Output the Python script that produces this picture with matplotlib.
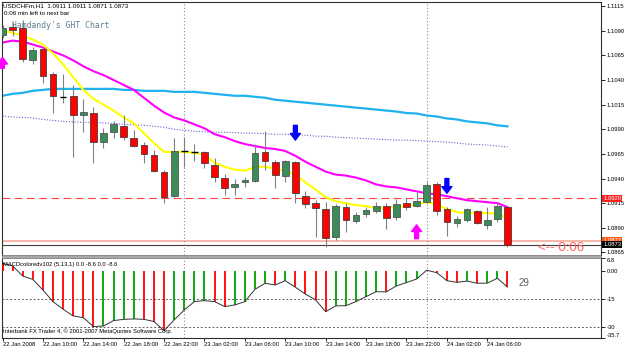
import numpy as np
import matplotlib.pyplot as plt
import matplotlib.transforms as mtransforms
from matplotlib.patches import Rectangle

plt.rcParams['font.family'] = ['Liberation Sans', 'DejaVu Sans']

# USDCHFm H1, 22 Jan 06:00 .. 24 Jan 08:00
opens = [1.1086, 1.1094, 1.1093, 1.1060, 1.1071, 1.1046, 1.1023, 1.1024, 1.1004, 1.1007,
         1.0977, 1.0987, 1.0993, 1.0981, 1.0974, 1.0964, 1.0947, 1.0922, 1.0969, 1.0967,
         1.0967, 1.0954, 1.0941, 1.0931, 1.0936, 1.0938, 1.0967, 1.0957, 1.0943, 1.0957,
         1.0922, 1.0915, 1.0909, 1.0881, 1.0911, 1.0897, 1.0904, 1.0907, 1.0912, 1.0901,
         1.0915, 1.0912, 1.0916, 1.0934, 1.0909, 1.0895, 1.0898, 1.0907, 1.0893, 1.0899,
         1.0911]
highs = [1.1096, 1.1099, 1.1101, 1.1074, 1.1074, 1.1048, 1.1046, 1.1035, 1.1021, 1.1013,
         1.0991, 1.0998, 1.1005, 1.0989, 1.0977, 1.0969, 1.0949, 1.0981, 1.0982, 1.0975,
         1.0968, 1.0961, 1.0945, 1.0940, 1.0942, 1.0975, 1.0988, 1.0959, 1.0959, 1.0958,
         1.0927, 1.0918, 1.0916, 1.0914, 1.0915, 1.0906, 1.0911, 1.0916, 1.0915, 1.0919,
         1.0920, 1.0926, 1.0936, 1.0936, 1.0911, 1.0902, 1.0910, 1.0908, 1.0911, 1.0915,
         1.0911]
lows = [1.1083, 1.1085, 1.1058, 1.1056, 1.1037, 1.1007, 1.1017, 1.0962, 1.0987, 1.0956,
        1.0971, 1.0981, 1.0979, 1.0972, 1.0956, 1.0947, 1.0915, 1.0921, 1.0952, 1.0958,
        1.0951, 1.0936, 1.0923, 1.0923, 1.0931, 1.0936, 1.0949, 1.0930, 1.0936, 1.0915,
        1.0910, 1.0881, 1.0871, 1.0878, 1.0886, 1.0895, 1.0901, 1.0905, 1.0889, 1.0898,
        1.0908, 1.0911, 1.0915, 1.0903, 1.0882, 1.0891, 1.0896, 1.0894, 1.0889, 1.0896,
        1.0871]
closes = [1.1093, 1.1091, 1.1061, 1.1070, 1.1044, 1.1024, 1.1023, 1.1005, 1.1008, 1.0977,
          1.0986, 1.0995, 1.0982, 1.0973, 1.0965, 1.0948, 1.0921, 1.0968, 1.0968, 1.0967,
          1.0956, 1.0942, 1.0930, 1.0934, 1.0939, 1.0966, 1.0958, 1.0944, 1.0958, 1.0925,
          1.0914, 1.0910, 1.0880, 1.0912, 1.0898, 1.0903, 1.0908, 1.0912, 1.0900, 1.0914,
          1.0911, 1.0917, 1.0933, 1.0907, 1.0896, 1.0899, 1.0909, 1.0895, 1.0898, 1.0912,
          1.0873]

ma_yellow = [1.1090, 1.1088, 1.1085, 1.1081, 1.1076, 1.1067, 1.1056, 1.1043, 1.1030, 1.1021,
             1.1015, 1.1009, 1.1002, 1.0996, 1.0986, 1.0976, 1.0967, 1.0967, 1.0967, 1.0966,
             1.0964, 1.0956, 1.0952, 1.0949, 1.0948, 1.0952, 1.0952, 1.0950, 1.0948, 1.0944,
             1.0936, 1.0929, 1.0921, 1.0917, 1.0915, 1.0913, 1.0912, 1.0910, 1.0910, 1.0911,
             1.0912, 1.0914, 1.0916, 1.0914, 1.0909, 1.0906, 1.0905, 1.0905, 1.0905, 1.0904,
             1.0900]
ma_magenta = [1.1078, 1.1080, 1.1079, 1.1076, 1.1073, 1.1069, 1.1065, 1.1060, 1.1054, 1.1049,
              1.1045, 1.1040, 1.1035, 1.1030, 1.1022, 1.1014, 1.1007, 1.1002, 1.0999, 1.0995,
              1.0991, 1.0985, 1.0982, 1.0978, 1.0975, 1.0973, 1.0971, 1.0970, 1.0968, 1.0963,
              1.0957, 1.0952, 1.0947, 1.0944, 1.0943, 1.0941, 1.0938, 1.0934, 1.0932, 1.0931,
              1.0929, 1.0927, 1.0925, 1.0924, 1.0922, 1.0920, 1.0918, 1.0917, 1.0916, 1.0915,
              1.0911]
ma_cyan = [1.1024, 1.1026, 1.1027, 1.1029, 1.1030, 1.1031, 1.1031, 1.1031, 1.1031, 1.1031,
           1.1031, 1.1031, 1.1030, 1.1030, 1.1029, 1.1029, 1.1029, 1.1028, 1.1028, 1.1028,
           1.1027, 1.1026, 1.1025, 1.1024, 1.1024, 1.1023, 1.1022, 1.1020, 1.1019, 1.1018,
           1.1017, 1.1016, 1.1015, 1.1014, 1.1013, 1.1012, 1.1011, 1.1010, 1.1009, 1.1008,
           1.10065, 1.1006, 1.1004, 1.1003, 1.1001, 1.1000, 1.0998, 1.0997, 1.0996, 1.0994,
           1.0993]
ma_dotted = [1.10035, 1.10025, 1.1002, 1.10015, 1.1000, 1.0999, 1.0998, 1.09975, 1.0997, 1.0997,
             1.09965, 1.0996, 1.0995, 1.09945, 1.0994, 1.0993, 1.0992, 1.0990, 1.0989, 1.0988,
             1.09875, 1.0987, 1.0987, 1.09865, 1.0986, 1.0986, 1.09855, 1.0985, 1.0985, 1.09845,
             1.0984, 1.0983, 1.0983, 1.0982, 1.09815, 1.0981, 1.09805, 1.0980, 1.09795, 1.0979,
             1.0979, 1.09785, 1.0978, 1.09775, 1.0977, 1.0976, 1.0975, 1.09745, 1.0974, 1.0973,
             1.0972]

macd = [4.1, 2.7, -2.7, -4.5, -10.2, -16.4, -20.5, -24.1, -25.0, -29.8,
        -29.5, -26.6, -25.9, -25.7, -25.9, -27.1, -32.0, -26.2, -20.9, -16.4,
        -15.9, -16.4, -19.1, -18.2, -16.4, -9.8, -6.6, -7.5, -5.2, -8.7,
        -12.4, -15.5, -21.8, -18.7, -18.6, -16.4, -13.7, -11.1, -11.2, -8.0,
        -6.2, -4.3, 0.4, -0.9, -5.2, -6.1, -5.4, -6.6, -6.5, -3.9,
        -8.6]
macd_dir = ['r'] * 10 + ['g'] * 4 + ['r'] * 3 + ['g'] * 4 + ['r'] * 2 + ['g'] * 4 + \
           ['r', 'g'] + ['r'] * 4 + ['g'] * 5 + ['r'] + ['g'] * 4 + ['r'] * 3 + \
           ['g', 'r', 'g', 'g', 'r']

time_ticks = [0, 4, 8, 12, 16, 20, 24, 28, 32, 36, 40, 44, 48]
time_labels = ['22 Jan 2008', '22 Jan 10:00', '22 Jan 14:00', '22 Jan 18:00', '22 Jan 22:00',
               '23 Jan 02:00', '23 Jan 06:00', '23 Jan 10:00', '23 Jan 14:00', '23 Jan 18:00',
               '23 Jan 22:00', '24 Jan 02:00', '24 Jan 06:00']
price_ticks = [1.1115, 1.1090, 1.1065, 1.1040, 1.1015, 1.0990, 1.0965, 1.0940, 1.0915, 1.0890, 1.0865]
macd_ticks = [6.8, 0.0, -15, -30, -35.7]
macd_tick_labels = ['6.8', '0.00', '-15', '-30', '-35.7']
day_separators = [18, 42]

up_arrow_bars = [0, 41]
up_arrow_tail = [1.1052, 1.0879]
up_arrow_tip = [1.1063, 1.0893]
down_arrow_bars = [29, 44]
down_arrow_tail = [1.0994, 1.0940]
down_arrow_tip = [1.0979, 1.0925]

level_price = 1.0920
ask_price = 1.0877
bid_price = 1.0873

small = 4.2

fig = plt.figure(figsize=(6.25, 3.48), dpi=100)
ax = fig.add_axes([2/625, 1-255/348, 599/625, 253/348])
ax2 = fig.add_axes([2/625, 1-337.6/348, 599/625, 79.3/348])

x = np.arange(len(opens))
o = np.array(opens)
c = np.array(closes)
body_bot = np.minimum(o, c)
body_h = np.abs(c - o)
flat = body_h < 0.00015
up = (c > o) & ~flat
down = (c < o) & ~flat

# indicator lines under the candles
ax.plot(x, ma_cyan, color='#1eb2f0', lw=1.6, zorder=2)
ax.plot(x, ma_dotted, color='#6a5acd', lw=0.8, ls=(0, (1, 1.5)), zorder=2)
ax.plot(x, ma_magenta, color='#ff00ff', lw=1.5, zorder=2)
ax.plot(x, ma_yellow, color='#ffff00', lw=1.5, zorder=2)

ax.axhline(level_price, color='#ff4040', lw=0.8, dashes=(7, 4), zorder=1)
ax.axhline(ask_price, color='#f6aa9c', lw=1.2, zorder=1)
ax.axhline(bid_price, color='#404040', lw=0.8, zorder=1)
for d in day_separators:
    ax.axvline(d, color='#8a8a8a', lw=0.8, ls=(0, (1, 2)), zorder=1)
    ax2.axvline(d, color='#8a8a8a', lw=0.8, ls=(0, (1, 2)), zorder=1)

ax.vlines(x, lows, highs, color='#808080', lw=0.8, zorder=3)
ax.bar(x[up], body_h[up], bottom=body_bot[up], width=0.66, color='#3c8c5a',
       edgecolor='#555555', lw=0.6, zorder=4)
ax.bar(x[down], body_h[down], bottom=body_bot[down], width=0.66, color='#ff0000',
       edgecolor='#404040', lw=0.6, zorder=4)
ax.hlines(c[flat], x[flat] - 0.33, x[flat] + 0.33, color='black', lw=1.0, zorder=4)

arrow_style = 'simple,head_length=0.6,head_width=0.9,tail_width=0.35'
for b, t0, t1 in zip(up_arrow_bars, up_arrow_tail, up_arrow_tip):
    ax.annotate('', xy=(b, t1), xytext=(b, t0), zorder=5,
                arrowprops=dict(arrowstyle=arrow_style, color='#ff00ff', mutation_scale=8,
                                shrinkA=0, shrinkB=0))
for b, t0, t1 in zip(down_arrow_bars, down_arrow_tail, down_arrow_tip):
    ax.annotate('', xy=(b, t1), xytext=(b, t0), zorder=5,
                arrowprops=dict(arrowstyle=arrow_style, color='#0000ff', mutation_scale=8,
                                shrinkA=0, shrinkB=0))

ax.set_xlim(-0.05, 59.26)
ax.set_ylim(1.08624, 1.11192)
ax.set_xticks([])
ax.yaxis.tick_right()
ax.set_yticks(price_ticks)
ax.set_yticklabels([f'{p:.4f}' for p in price_ticks])
ax.tick_params(axis='y', length=3, width=0.6, pad=1.0, labelsize=small)
for s in ax.spines.values():
    s.set_color('#303030')
    s.set_linewidth(0.8)
ax.spines['bottom'].set_visible(False)

# price labels on the right axis
trans = mtransforms.blended_transform_factory(ax.transAxes, ax.transData)
for p, fc, tc in [(level_price, '#ff2020', 'white'), (ask_price, '#ff5a10', 'white'),
                  (bid_price, 'black', 'white')]:
    ax.text(1.004, p, f'{p:.4f}', transform=trans, ha='left', va='center', fontsize=small,
            color=tc, zorder=6, clip_on=False,
            bbox=dict(facecolor=fc, edgecolor='none', pad=0.7))

ax.text(53.0, 1.0870, '<-- 0:06', color='#ff6060', fontsize=9.5,
        va='center', ha='left', zorder=6)

ax.text(0.0017, 0.984, 'USDCHFm,H1  1.0911 1.0911 1.0871 1.0873', transform=ax.transAxes,
        fontsize=4.5, va='center', ha='left', zorder=6)
ax.text(0.0033, 0.9565, '0:06 min left to next bar', transform=ax.transAxes,
        fontsize=4.5, va='center', ha='left', zorder=6)
ax.text(0.0167, 0.909, "Hamdandy's GHT Chart", transform=ax.transAxes,
        family=['DejaVu Sans Mono'], fontsize=5.8, color='#5f7f8f',
        va='center', ha='left', zorder=1)

# MACD sub-window
bar_cols = ['#00a000' if d == 'g' else '#ff0000' for d in macd_dir]
ax2.vlines(x, 0, macd, colors=bar_cols, lw=1.3, zorder=3)
ax2.plot(x, macd, color='#333333', lw=0.7, zorder=4)
for lvl in [-15, -30]:
    ax2.axhline(lvl, color='#606060', lw=0.7, ls=(0, (2, 2)), zorder=1)
ax2.text(51.1, -6.4, '29', color='#606060', fontsize=7, va='center', ha='left')
ax2.text(0.0017, 0.928, 'MACDcoloredv102 (5,13,1) 0.0 -8.6 0.0 -8.6', transform=ax2.transAxes,
         fontsize=small, va='center', ha='left', zorder=6)
ax2.text(0.0017, 0.083, 'Interbank FX Trader 4, \u00a9 2001-2007 MetaQuotes Software Corp.',
         transform=ax2.transAxes, fontsize=small, va='center', ha='left', zorder=6)

ax2.set_xlim(-0.05, 59.26)
ax2.set_ylim(-35.7, 6.8)
ax2.yaxis.tick_right()
ax2.set_yticks(macd_ticks)
ylabs = ax2.set_yticklabels(macd_tick_labels)
ylabs[0].set_va('top')
ylabs[-1].set_va('bottom')
ax2.tick_params(axis='y', length=3, width=0.6, pad=1.0, labelsize=small)
ax2.set_xticks(time_ticks)
ax2.set_xticklabels(time_labels, ha='left')
ax2.tick_params(axis='x', length=2.5, width=0.6, pad=1.0, labelsize=small)
for s in ax2.spines.values():
    s.set_color('#303030')
    s.set_linewidth(0.8)
ax2.spines['top'].set_visible(False)

# separator between the windows
fig.patches.append(Rectangle((2/625, 1-258.3/348), 599/625, 3.3/348,
                             transform=fig.transFigure, facecolor='#a8a8a8',
                             edgecolor='#707070', lw=0.5))

fig.savefig('out.png', dpi=100, facecolor='white')
